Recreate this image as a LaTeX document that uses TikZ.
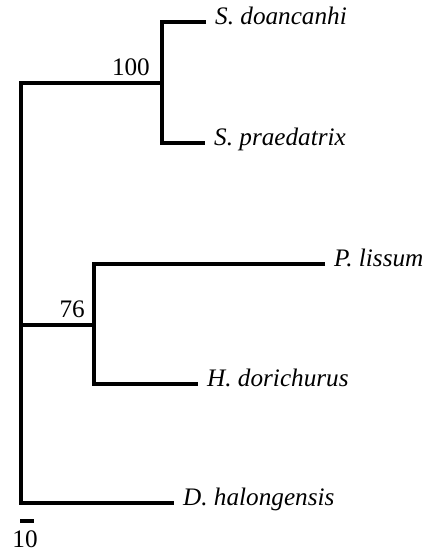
\documentclass[tikz,border=0pt]{standalone}
\usepackage{fontspec}
\setmainfont{Liberation Serif}
\begin{document}
\begin{tikzpicture}[x=1pt,y=-1pt,
  branch/.style={line width=4.6pt, line join=miter, line cap=butt},
  taxon/.style={anchor=mid west, inner sep=0pt, font=\fontsize{25.2}{29}\selectfont\itshape},
  support/.style={anchor=base east, inner sep=0pt, font=\fontsize{25.2}{29}\selectfont},
  scalelbl/.style={anchor=base, inner sep=0pt, font=\fontsize{25.2}{29}\selectfont}]
\useasboundingbox[fill=white] (0,0) rectangle (430,552);
% internal vertices
\coordinate (root) at (21,83);
\coordinate (rootbot) at (21,503);
\coordinate (rootmid) at (21,325);
\coordinate (nS) at (162,83);
\coordinate (nStop) at (162,22);
\coordinate (nSbot) at (162,143);
\coordinate (nPH) at (94,325);
\coordinate (nPHtop) at (94,264);
\coordinate (nPHbot) at (94,384);
% tips
\coordinate (tSd) at (206,22);
\coordinate (tSp) at (205,143);
\coordinate (tPl) at (325,264);
\coordinate (tHd) at (198,384);
\coordinate (tDh) at (174,503);
% labels
\node[taxon] (Sd) at ([xshift=9pt]tSd) {S. doancanhi};
\node[taxon] (Sp) at ([xshift=9pt]tSp) {S. praedatrix};
\node[taxon] (Pl) at ([xshift=9pt]tPl) {P. lissum};
\node[taxon] (Hd) at ([xshift=9pt]tHd) {H. dorichurus};
\node[taxon] (Dh) at ([xshift=9pt]tDh) {D. halongensis};
\node[support] (b100) at (150,75) {100};
\node[support] (b76) at (85,317) {76};
% branches
\draw[branch] (tSd) -- (nStop) -- (nSbot) -- (tSp);
\draw[branch] (nS) -- (root) -- (rootbot) -- (tDh);
\draw[branch] (rootmid) -- (nPH);
\draw[branch] (tPl) -- (nPHtop) -- (nPHbot) -- (tHd);
% scale bar
\coordinate (sbL) at (20,521);
\coordinate (sbR) at (34,521);
\draw[line width=3.8pt] (sbL) -- (sbR);
\node[scalelbl] (sb10) at (25,547) {10};
\end{tikzpicture}
\end{document}
